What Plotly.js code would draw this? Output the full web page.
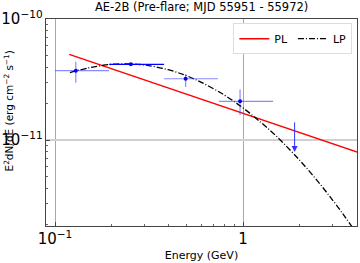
<!DOCTYPE html>
<html>
<head>
<meta charset="utf-8">
<script src="https://cdn.plot.ly/plotly-3.0.1.min.js"></script>
<style>html,body{margin:0;padding:0;background:#fff;}#chart{width:360px;height:263px;}</style>
</head>
<body>
<div id="chart"></div>
<script>
// Data points (SED)
var energy   = [0.129, 0.253, 0.495, 0.964];
var eLow     = [0.100, 0.194, 0.380, 0.745];
var eHigh    = [0.194, 0.380, 0.736, 1.445];
var flux     = [3.74e-11, 4.22e-11, 3.21e-11, 2.09e-11];
var fluxLow  = [2.98e-11, 4.17e-11, 2.74e-11, 1.61e-11];
var fluxHigh = [4.44e-11, 4.27e-11, 3.51e-11, 2.62e-11];
// Upper limit
var ulEnergy = [1.88];
var ulFlux   = [1.44e-11];
var ulTip    = [7.96e-12];
// Power-law model
var plEnergy = [0.119, 4.1];
var plFlux   = [5.10e-11, 7.89e-12];
// Log-parabola model
var lpEnergy = [0.12, 0.15, 0.2, 0.25, 0.3, 0.4, 0.5, 0.6, 0.8, 1.0, 1.25, 1.5, 2.0, 2.5, 3.0, 3.5, 4.0];
var lpFlux   = [3.60e-11, 3.94e-11, 4.22e-11, 4.26e-11, 4.17e-11, 3.81e-11, 3.40e-11, 3.00e-11, 2.34e-11,
                1.84e-11, 1.39e-11, 1.08e-11, 6.81e-12, 4.55e-12, 3.18e-12, 2.30e-12, 1.71e-12];

function sub(a,b){return a.map(function(v,i){return v-b[i];});}

var font = 'DejaVu Sans, sans-serif';
var errCol = 'rgba(60,60,255,0.6)';

var idxA = [0,2,3], idxB = [1];
function pick(arr, idx){return idx.map(function(i){return arr[i];});}

function ptTrace(idx, col){
  return {
    x: pick(energy, idx), y: pick(flux, idx), type: 'scatter', mode: 'markers',
    marker: {color: '#0000ff', size: 4},
    error_x: {type: 'data', symmetric: false, array: sub(pick(eHigh,idx), pick(energy,idx)),
              arrayminus: sub(pick(energy,idx), pick(eLow,idx)), color: col, thickness: 1.2, width: 0},
    error_y: {type: 'data', symmetric: false, array: sub(pick(fluxHigh,idx), pick(flux,idx)),
              arrayminus: sub(pick(flux,idx), pick(fluxLow,idx)), color: col, thickness: 1.2, width: 0},
    showlegend: false, hoverinfo: 'skip'
  };
}

var traces = [
  {x: plEnergy, y: plFlux, type: 'scatter', mode: 'lines', name: 'PL',
   line: {color: '#ff0000', width: 1.5}},
  {x: lpEnergy, y: lpFlux, type: 'scatter', mode: 'lines', name: 'LP',
   line: {color: '#000000', width: 1.3, dash: '6px,2px,1px,2px', shape: 'spline'}},
  ptTrace(idxA, errCol),
  ptTrace(idxB, '#0000ff')
];

var layout = {
  width: 360, height: 263,
  margin: {l: 46, r: 3, t: 19, b: 37},
  paper_bgcolor: '#fff', plot_bgcolor: '#fff',
  font: {family: font, size: 10, color: '#000'},
  title: {text: 'AE-2B (Pre-flare; MJD 55951 - 55972)', font: {family: font, size: 11.5, color: '#000'},
          x: 0.56, xanchor: 'center', y: 0.99, yanchor: 'top'},
  xaxis: {type: 'log', range: [-1.048, 0.606], dtick: 1, exponentformat: 'power',
          showgrid: true, gridcolor: '#a8a8a8', gridwidth: 1,
          ticks: 'inside', ticklen: 4, tickcolor: '#444',
          minor: {ticks: 'inside', ticklen: 2, tickcolor: '#666', showgrid: false},
          showline: true, linecolor: '#444', linewidth: 1, mirror: true, zeroline: false,
          tickfont: {family: font, size: 12},
          title: {text: 'Energy (GeV)', font: {family: font, size: 11}, standoff: 3}},
  yaxis: {type: 'log', range: [-11.71, -10.0], dtick: 1, exponentformat: 'power',
          showgrid: true, gridcolor: '#d0d0d0', gridwidth: 2,
          ticks: 'inside', ticklen: 4, tickcolor: '#444',
          minor: {ticks: 'inside', ticklen: 2, tickcolor: '#666', showgrid: false},
          showline: true, linecolor: '#444', linewidth: 1, mirror: true, zeroline: false,
          tickfont: {family: font, size: 12}},
  legend: {orientation: 'h', x: 0.985, xanchor: 'right', y: 0.98, yanchor: 'top',
           bgcolor: '#fff', bordercolor: '#ddd', borderwidth: 1,
           font: {family: font, size: 11}},
  annotations: [{
    x: Math.log10(ulEnergy[0]), y: Math.log10(ulTip[0]), xref: 'x', yref: 'y',
    ax: Math.log10(ulEnergy[0]), ay: Math.log10(ulFlux[0]), axref: 'x', ayref: 'y',
    showarrow: true, arrowhead: 2, arrowsize: 1.2, arrowwidth: 1, arrowcolor: '#3333ff', text: ''
  }, {
    text: 'E<sup>2</sup>dN/dE (erg cm<sup>\u22122</sup> s<sup>\u22121</sup>)',
    xref: 'paper', yref: 'paper', x: -0.093, y: 0.556, xanchor: 'right', yanchor: 'middle',
    textangle: -90, showarrow: false, font: {family: font, size: 10.5, color: '#000'}
  }]
};

Plotly.newPlot('chart', traces, layout, {displayModeBar: false, staticPlot: true});
</script>
</body>
</html>
